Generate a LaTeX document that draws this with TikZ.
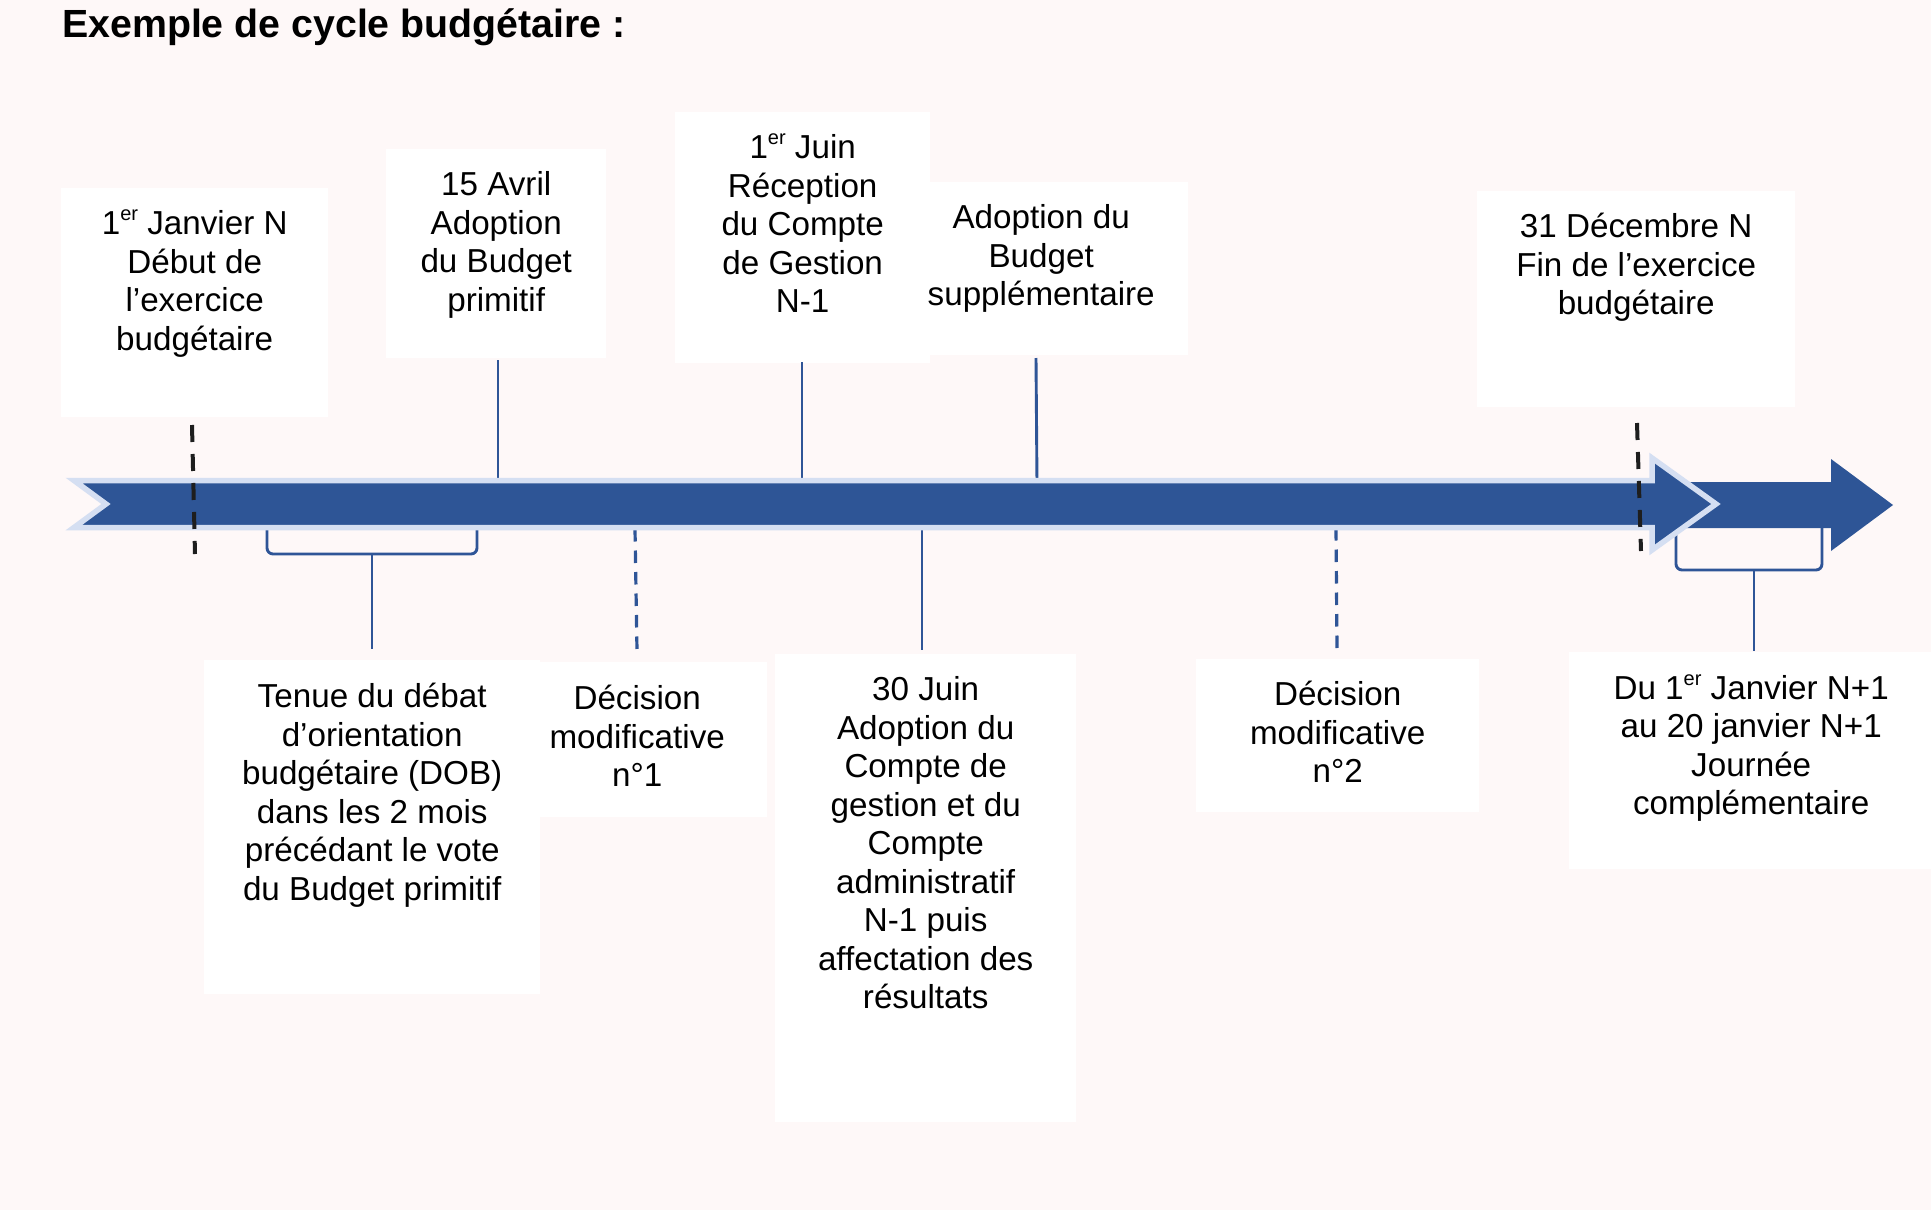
\documentclass[tikz,border=0pt]{standalone}
\usepackage{fontspec}
\setmainfont{Liberation Sans}
\definecolor{bgc}{HTML}{FEF8F8}
\definecolor{cblue}{HTML}{2F5597}
\definecolor{bandblue}{HTML}{2E5596}
\definecolor{lightblue}{HTML}{D5DFF2}
\definecolor{kblack}{HTML}{1E1E1E}
\newcommand\myexp[1]{\raisebox{0.42em}{\fontsize{20}{20}\selectfont #1}}
\newcommand\fl{\rule{0pt}{30pt}}
\begin{document}
\begin{tikzpicture}[
  x=1pt, y=-1pt,
  box/.style={fill=white, draw=none, inner sep=0, anchor=north west},
  lbl/.style={font=\fontsize{33.2}{38.5}\selectfont, align=center, inner sep=0, anchor=north, text=black},
  conn/.style={draw=cblue, line width=2.9pt},
  dconn/.style={draw=cblue, line width=3.2pt, dash pattern=on 12.5pt off 9pt},
  kdash/.style={draw=kblack, line width=4pt, dash pattern=on 17pt off 12pt},
]
\useasboundingbox (0,0) rectangle (1931,1210);
\fill[bgc] (0,0) rectangle (1931,1210);

% boxes
\node[box, minimum width=267pt, minimum height=229pt] (b1) at (61,188) {};
\node[box, minimum width=220pt, minimum height=209pt] (b2) at (386,149) {};
\node[box, minimum width=255pt, minimum height=251pt] (b3) at (675,112) {};
\node[box, minimum width=294pt, minimum height=173pt] (b4) at (894,182) {};
\node[box, minimum width=318pt, minimum height=216pt] (b5) at (1477,191) {};
\node[box, minimum width=336pt, minimum height=334pt] (b6) at (204,660) {};
\node[box, minimum width=260pt, minimum height=155pt] (b7) at (507,662) {};
\node[box, minimum width=301pt, minimum height=468pt] (b8) at (775,654) {};
\node[box, minimum width=283pt, minimum height=153pt] (b9) at (1196,659) {};
\node[box, minimum width=370pt, minimum height=217pt] (b10) at (1569,652) {};

% connector end points
\coordinate (u2) at (498,360);  \coordinate (v2) at (498,484);
\coordinate (u3) at (802,362);  \coordinate (v3) at (802,484);
\coordinate (u4) at (1036,358); \coordinate (v4) at (1037,484);
\coordinate (d7a) at (635,529); \coordinate (d7b) at (637,651);
\coordinate (d8a) at (922,524); \coordinate (d8b) at (922,650);
\coordinate (d9a) at (1336,528); \coordinate (d9b) at (1337,650);
\coordinate (bl1) at (267,524); \coordinate (bl2) at (267,554);
\coordinate (bl3) at (477,554); \coordinate (bl4) at (477,524);
\coordinate (s6a) at (372,554); \coordinate (s6b) at (372,649);
\coordinate (br1) at (1676,528); \coordinate (br2) at (1676,570);
\coordinate (br3) at (1822,570); \coordinate (br4) at (1822,528);
\coordinate (s10a) at (1754,570); \coordinate (s10b) at (1754,651);
\coordinate (k1a) at (192,425); \coordinate (k1b) at (195,554);
\coordinate (k2a) at (1637,423); \coordinate (k2b) at (1641,551);

% blue connectors
\draw[conn] (u2) -- (v2);
\draw[conn] (u3) -- (v3);
\draw[conn] (u4) -- (v4);
\draw[dconn] (d7a) -- (d7b);
\draw[conn] (d8a) -- (d8b);
\draw[dconn] (d9a) -- (d9b);
\draw[conn, rounded corners=6pt] (bl1) -- (bl2) -- (bl3) -- (bl4);
\draw[conn] (s6a) -- (s6b);
\draw[conn, rounded corners=6pt] (br1) -- (br2) -- (br3) -- (br4);
\draw[conn] (s10a) -- (s10b);

% second arrow
\fill[bandblue] (1660,482) -- (1831,482) -- (1831,459) -- (1893,505) -- (1831,551) -- (1831,528) -- (1660,528) -- cycle;
% main band arrow
\filldraw[fill=bandblue, draw=lightblue, line width=5.5pt, line join=miter]
  (74,480.5) -- (1652,480.5) -- (1652,458) -- (1716,504) -- (1652,550) -- (1652,527.5) -- (74,527.5) -- (106,504) -- cycle;

% black dashed markers
\draw[kdash] (k1a) -- (k1b);
\draw[kdash] (k2a) -- (k2b);

% texts
\node[lbl] (t1) at ([yshift=-16.5pt]b1.north) {\fl 1\myexp{er} Janvier N\\Début de\\l’exercice\\budgétaire};
\node[lbl] (t2) at ([yshift=-16.5pt]b2.north) {\fl 15 Avril\\Adoption\\du Budget\\primitif};
\node[lbl] (t3) at ([yshift=-16.5pt]b3.north) {\fl 1\myexp{er} Juin\\Réception\\du Compte\\de Gestion\\N-1};
\node[lbl] (t4) at ([yshift=-16.5pt]b4.north) {\fl Adoption du\\Budget\\supplémentaire};
\node[lbl] (t5) at ([yshift=-16.5pt]b5.north) {\fl 31 Décembre N\\Fin de l’exercice\\budgétaire};
\node[lbl] (t6) at ([yshift=-17.5pt]b6.north) {\fl Tenue du débat\\d’orientation\\budgétaire (DOB)\\dans les 2 mois\\précédant le vote\\du Budget primitif};
\node[lbl] (t7) at ([yshift=-17.5pt]b7.north) {\fl Décision\\modificative\\n°1};
\node[lbl] (t8) at ([yshift=-16.5pt]b8.north) {\fl 30 Juin\\Adoption du\\Compte de\\gestion et du\\Compte\\administratif\\N-1 puis\\affectation des\\résultats};
\node[lbl] (t9) at ([yshift=-16.5pt]b9.north) {\fl Décision\\modificative\\n°2};
\node[lbl] (t10) at ([yshift=-17pt,xshift=-3pt]b10.north) {\fl Du 1\myexp{er} Janvier N+1\\au 20 janvier N+1\\Journée\\complémentaire};

% title
\node[font=\fontsize{39.3}{45}\selectfont\bfseries, anchor=base west, inner sep=0] (title) at (62,37) {Exemple de cycle budgétaire :};
\end{tikzpicture}
\end{document}
